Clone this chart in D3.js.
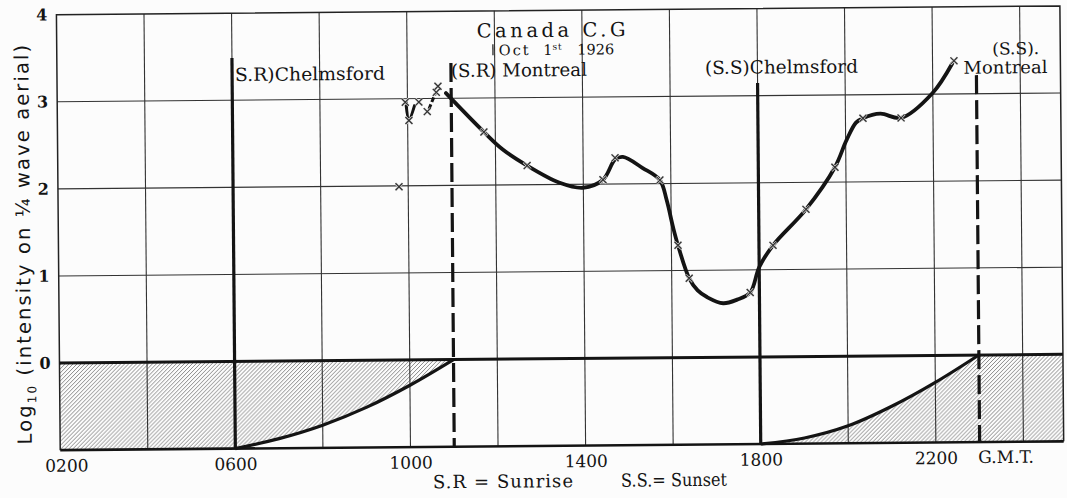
<!DOCTYPE html>
<html>
<head>
<meta charset="utf-8">
<script src="https://cdn.jsdelivr.net/npm/d3@7"></script>
<style>
  html, body { margin: 0; padding: 0; background: #fcfcfc; }
  svg { display: block; }
</style>
</head>
<body>
<svg id="chart" width="1067" height="498"></svg>
<script>
// ---- Data --------------------------------------------------------------
// Observed readings: G.M.T. (hhmm as a number) and log10 of intensity
const obsTime = [979, 995, 1003, 1026, 1045, 1066, 1070, 1174, 1272, 1445, 1473,
                 1575, 1615, 1640, 1779, 1832, 1908, 1975, 2040, 2127, 2249];
const obsLog  = [1.99, 2.96, 2.75, 2.96, 2.85, 3.07, 3.14, 2.61, 2.22, 2.05, 2.30,
                 2.04, 1.29, 0.91, 0.74, 1.28, 1.69, 2.17, 2.73, 2.73, 3.38];

// Smoothed curve through the readings after Montreal sunrise
const fitTime = [1088, 1174, 1216, 1272, 1346, 1399, 1445, 1473, 1491, 1536, 1575,
                 1590, 1604, 1615, 1640, 1659, 1681, 1717, 1749, 1779, 1800, 1832,
                 1908, 1975, 2002, 2024, 2040, 2080, 2127, 2199, 2245];
const fitLog  = [3.06, 2.61, 2.41, 2.22, 2.02, 1.96, 2.05, 2.28, 2.31, 2.18, 2.04,
                 1.81, 1.50, 1.29, 0.91, 0.77, 0.69, 0.62, 0.66, 0.74, 1.03, 1.28,
                 1.69, 2.17, 2.48, 2.68, 2.73, 2.78, 2.73, 3.01, 3.35];

// Short strokes joining the early morning readings
const earlyATime = [997, 1003, 1016];
const earlyALog  = [2.92, 2.76, 2.92];
const earlyBTime = [1049, 1064];
const earlyBLog  = [2.88, 3.06];

// Darkness boundaries along the path (sunrise / sunset)
const riseTime = [600, 700, 800, 900, 1000, 1100];
const riseLog  = [-1, -0.89, -0.74, -0.54, -0.29, 0];
const setTime  = [1800, 1900, 2000, 2100, 2200, 2300];
const setLog   = [-1, -0.935, -0.80, -0.58, -0.31, 0];

// Sunrise / sunset markers
const markerTime   = [600, 1100, 1800, 2300];
const markerLabel  = [["S.R)Chelmsford"], ["(S.R) Montreal"], ["(S.S)Chelmsford"], ["(S.S).", "Montreal"]];
const markerDashed = [false, true, false, true];

// Axis ticks
const xTickTime  = [200, 600, 1000, 1400, 1800, 2200];
const xTickLabel = ["0200", "0600", "1000", "1400", "1800", "2200"];
const yTicks     = [0, 1, 2, 3, 4];

// ---- Layout ------------------------------------------------------------
const serif = "'DejaVu Serif', 'Liberation Serif', serif";
const sans  = "'DejaVu Sans', 'Liberation Sans', sans-serif";
const ink = "#141414";

const x = d3.scaleLinear().domain([200, 2492]).range([58.5, 1062]);
const y = d3.scaleLinear().domain([-1, 4]).range([446, 10.5]);

const svg = d3.select("#chart");
svg.append("rect").attr("width", 1067).attr("height", 498).attr("fill", "#fcfcfc");

const defs = svg.append("defs");
defs.append("pattern")
    .attr("id", "hatch")
    .attr("patternUnits", "userSpaceOnUse")
    .attr("width", 4).attr("height", 4)
  .append("path")
    .attr("d", "M-1,1L1,-1M0,4L4,0M3,5L5,3")
    .attr("stroke", "#6c6c6c")
    .attr("stroke-width", 0.8);

// whole sheet sits at a very slight angle
const g = svg.append("g").attr("transform", "rotate(-0.5,533,250)");

// ---- Hatched darkness regions -----------------------------------------
const zip = (a, b) => a.map((t, i) => [t, b[i]]);
const rise = zip(riseTime, riseLog);
const set  = zip(setTime, setLog);
const bend = d3.curveCatmullRom.alpha(0.5);

g.append("rect")
    .attr("x", x(200)).attr("y", y(0))
    .attr("width", x(riseTime[0]) - x(200)).attr("height", y(-1) - y(0))
    .attr("fill", "url(#hatch)");
g.append("path")
    .datum(rise)
    .attr("d", d3.area().x(d => x(d[0])).y0(y(0)).y1(d => y(d[1])).curve(bend))
    .attr("fill", "url(#hatch)");
g.append("path")
    .datum(set)
    .attr("d", d3.area().x(d => x(d[0])).y0(y(-1)).y1(d => y(d[1])).curve(bend))
    .attr("fill", "url(#hatch)");
g.append("rect")
    .attr("x", x(setTime[setTime.length - 1])).attr("y", y(0))
    .attr("width", x(2492) - x(setTime[setTime.length - 1])).attr("height", y(-1) - y(0))
    .attr("fill", "url(#hatch)");

// ---- Grid ---------------------------------------------------------------
const gridX = d3.range(400, 2401, 200);
g.append("g").selectAll("line").data(gridX).join("line")
    .attr("x1", d => x(d)).attr("x2", d => x(d))
    .attr("y1", y(4)).attr("y2", y(-1))
    .attr("stroke", "#333").attr("stroke-width", 1.1);
g.append("g").selectAll("line").data([1, 2, 3]).join("line")
    .attr("x1", x(200)).attr("x2", x(2492))
    .attr("y1", d => y(d)).attr("y2", d => y(d))
    .attr("stroke", "#333").attr("stroke-width", 1.1);

// frame
g.append("path")
    .attr("d", `M${x(200)},${y(-1)}V${y(4)}H${x(2492)}V${y(-1)}`)
    .attr("fill", "none").attr("stroke", "#222").attr("stroke-width", 1.5);
// zero line and base line
g.append("line")
    .attr("x1", x(200)).attr("x2", x(2492)).attr("y1", y(0)).attr("y2", y(0))
    .attr("stroke", ink).attr("stroke-width", 3);
g.append("line")
    .attr("x1", x(200)).attr("x2", x(2492)).attr("y1", y(-1)).attr("y2", y(-1))
    .attr("stroke", ink).attr("stroke-width", 2.6);

// sunrise / sunset boundary curves
const boundary = d3.line().x(d => x(d[0])).y(d => y(d[1])).curve(bend);
[rise, set].forEach(pts => {
  g.append("path").datum(pts).attr("d", boundary)
    .attr("fill", "none").attr("stroke", ink).attr("stroke-width", 3.2);
});

// ---- Sunrise / sunset markers -----------------------------------------
const markerTop = [55.4, 62.3, 85, 79];   // top end of each vertical rule (px)
markerTime.forEach((t, i) => {
  g.append("line")
    .attr("x1", x(t)).attr("x2", x(t))
    .attr("y1", markerTop[i]).attr("y2", y(-1))
    .attr("stroke", ink).attr("stroke-width", 3.2)
    .attr("stroke-dasharray", markerDashed[i] ? "19,6" : null);
});

// marker labels: [x, baseline, width, size] per line of text
const markerLabelPos = [
  [[236.5, 78.4, 150, 18]],
  [[452.5, 76.3, 136, 18]],
  [[706.5, 75.5, 153, 18]],
  [[994, 58.5, 47, 16.5], [965, 77.5, 84, 17.5]]
];
markerLabel.forEach((lines, i) => {
  lines.forEach((txt, j) => {
    const p = markerLabelPos[i][j];
    g.append("text")
      .attr("x", p[0]).attr("y", p[1])
      .attr("textLength", p[2]).attr("lengthAdjust", "spacingAndGlyphs")
      .attr("font-family", serif).attr("font-size", p[3])
      .attr("fill", ink)
      .text(txt);
  });
});

// ---- Intensity curve ----------------------------------------------------
const smooth = d3.line().x(d => x(d[0])).y(d => y(d[1])).curve(d3.curveCatmullRom.alpha(0.5));
g.append("path").datum(zip(fitTime, fitLog)).attr("d", smooth)
  .attr("fill", "none").attr("stroke", ink).attr("stroke-width", 3.8)
  .attr("stroke-linecap", "round");
g.append("path").datum(zip(earlyATime, earlyALog)).attr("d", smooth)
  .attr("fill", "none").attr("stroke", ink).attr("stroke-width", 3)
  .attr("stroke-linecap", "round");
g.append("path").datum(zip(earlyBTime, earlyBLog)).attr("d", smooth)
  .attr("fill", "none").attr("stroke", ink).attr("stroke-width", 3)
  .attr("stroke-dasharray", "5,2.5");

// reading crosses
const crossPath = "M-3.5,-3.5L3.5,3.5M-3.5,3.5L3.5,-3.5";
const obs = zip(obsTime, obsLog);
g.append("g").selectAll("path").data(obs).join("path")
  .attr("transform", d => `translate(${x(d[0])},${y(d[1])})`)
  .attr("d", crossPath).attr("stroke", "#e4e4e4").attr("stroke-width", 2.6);
g.append("g").selectAll("path").data(obs).join("path")
  .attr("transform", d => `translate(${x(d[0])},${y(d[1])})`)
  .attr("d", crossPath).attr("stroke", "#333").attr("stroke-width", 1.3);

// ---- Axes ---------------------------------------------------------------
const xAxis = g.append("g")
  .attr("transform", `translate(0,${y(-1)})`)
  .call(d3.axisBottom(x).tickValues(xTickTime).tickFormat((d, i) => xTickLabel[i])
        .tickSize(0).tickPadding(9.5));
xAxis.select(".domain").remove();
xAxis.selectAll("text").attr("font-family", serif).attr("font-size", 17).attr("fill", ink)
  .attr("dx", (d, i) => i === 0 ? 6 : 0);

g.append("text")
  .attr("x", x(2360)).attr("y", 467)
  .attr("text-anchor", "middle")
  .attr("font-family", serif).attr("font-size", 17).attr("fill", ink)
  .text("G.M.T.");

const yAxis = g.append("g")
  .attr("transform", `translate(${x(200)},0)`)
  .call(d3.axisLeft(y).tickValues(yTicks).tickFormat(d3.format("d")).tickSize(0).tickPadding(9));
yAxis.select(".domain").remove();
yAxis.selectAll("text").attr("font-family", serif).attr("font-size", 16)
  .attr("font-weight", "bold").attr("fill", ink);

// y axis title, running upwards from the foot of the axis
const yTitle = g.append("text")
  .attr("transform", "translate(30,440) rotate(-90)")
  .attr("text-anchor", "start")
  .attr("font-family", sans).attr("font-size", 19.5).attr("fill", ink)
  .attr("letter-spacing", 2.1);
yTitle.append("tspan").text("Log");
yTitle.append("tspan").attr("font-size", 12).attr("dy", 5).text("10");
yTitle.append("tspan").attr("dy", -5).text(" (intensity on \u00BC wave aerial)");

// legend line for the abbreviations
g.append("text")
  .attr("x", 431).attr("y", 487.4)
  .attr("textLength", 140).attr("lengthAdjust", "spacing")
  .attr("font-family", serif).attr("font-size", 18).attr("fill", ink)
  .text("S.R = Sunrise");
g.append("text")
  .attr("x", 619).attr("y", 487.4)
  .attr("textLength", 106).attr("lengthAdjust", "spacingAndGlyphs")
  .attr("font-family", serif).attr("font-size", 18).attr("fill", ink)
  .text("S.S.= Sunset");

// ---- Title block --------------------------------------------------------
g.append("text")
  .attr("x", 478.5).attr("y", 37)
  .attr("textLength", 149).attr("lengthAdjust", "spacing")
  .attr("font-family", serif).attr("font-size", 19.5).attr("fill", ink)
  .text("Canada C.G");

g.append("line")
  .attr("x1", 494.7).attr("x2", 494.7).attr("y1", 44).attr("y2", 55)
  .attr("stroke", ink).attr("stroke-width", 1.2);
const dateText = g.append("text")
  .attr("y", 55).attr("font-family", serif).attr("font-size", 14.5).attr("fill", ink);
dateText.append("tspan").attr("x", 500.5).attr("letter-spacing", 2).text("Oct");
dateText.append("tspan").attr("x", 545).text("1");
dateText.append("tspan").attr("font-size", 9).attr("dy", -5).attr("letter-spacing", 1).text("st");
dateText.append("tspan").attr("x", 579).attr("dy", 5).text("1926");
</script>
</body>
</html>
